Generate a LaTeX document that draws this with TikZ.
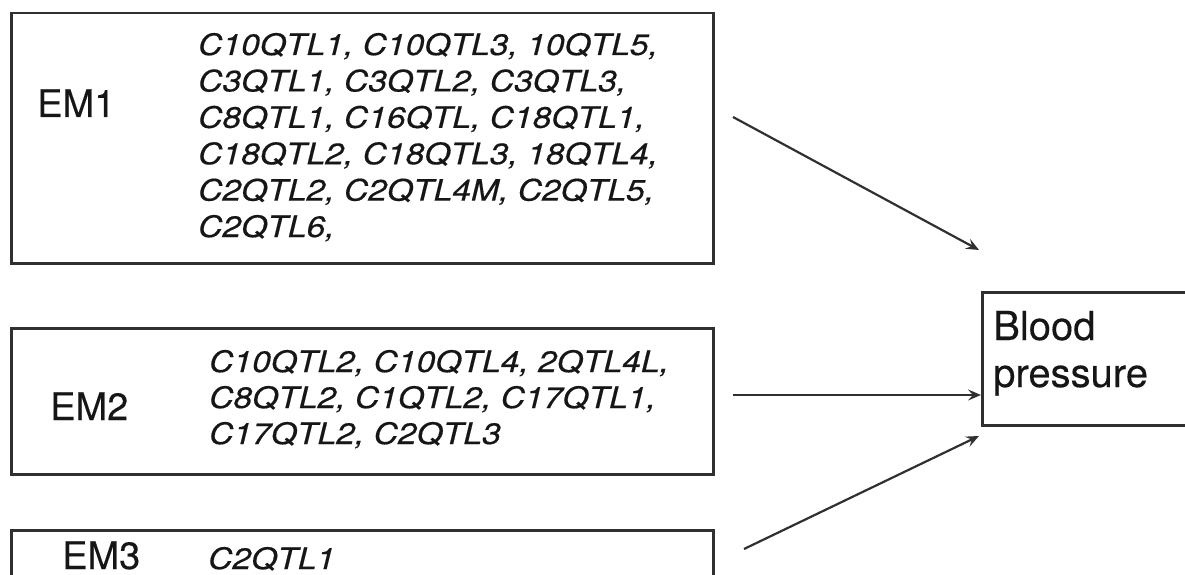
\documentclass[tikz,border=0pt]{standalone}
\usepackage{fontspec}
\setmainfont[FakeBold=0.3]{TeX Gyre Heros}
\newfontfamily\listfont[FakeStretch=1.14,FakeBold=0.5]{TeX Gyre Heros}
\usetikzlibrary{arrows.meta}
\definecolor{ink}{HTML}{161616}
\definecolor{rule}{HTML}{303030}
\tikzset{
  box/.style={draw=rule, line width=2.5pt, fill=none, inner sep=0pt, anchor=north west},
  label/.style={inner sep=0pt, anchor=base west, text=ink, font=\fontsize{38}{44}\selectfont},
  listtxt/.style={inner sep=0pt, anchor=base west, text=ink, font=\listfont\itshape\fontsize{29.5}{36}\selectfont},
  bptxt/.style={inner sep=0pt, anchor=base west, text=ink, font=\fontsize{40}{47}\selectfont},
  link/.style={draw=rule, line width=2.2pt, -{Stealth[length=13pt,width=11pt,inset=5pt]}}
}
\begin{document}
\begin{tikzpicture}[x=1pt, y=-1pt]
  \useasboundingbox (0,0) rectangle (1185,575);
  \clip (0,0) rectangle (1185,575);

  % module boxes
  \node[box, minimum width=702pt, minimum height=250pt] (em1) at (10,12) {};
  \node[box, minimum width=702pt, minimum height=146pt] (em2) at (10,327) {};
  \node[box, minimum width=702pt, minimum height=80pt] (em3) at (10,529) {};
  \node[box, minimum width=214pt, minimum height=133pt] (bp) at (981,291) {};

  % module names
  \node[label] (em1name) at (37,117) {EM1};
  \node[label] (em2name) at (50,420) {EM2};
  \node[label] (em3name) at (62,569) {EM3};

  % QTL lists
  \foreach \t [count=\i] in {{C10QTL1, C10QTL3, 10QTL5,},
                             {C3QTL1, C3QTL2, C3QTL3,},
                             {C8QTL1, C16QTL, C18QTL1,},
                             {C18QTL2, C18QTL3, 18QTL4,},
                             {C2QTL2, C2QTL4M, C2QTL5,},
                             {C2QTL6,}}
    \node[listtxt] (em1l\i) at (198, 55+36.4*\i-36.4) {\t};
  \foreach \t [count=\i] in {{C10QTL2, C10QTL4, 2QTL4L,},
                             {C8QTL2, C1QTL2, C17QTL1,},
                             {C17QTL2, C2QTL3}}
    \node[listtxt] (em2l\i) at (209, 372+36*\i-36) {\t};
  \node[listtxt] (em3l1) at (208,569) {C2QTL1};

  % outcome
  \node[bptxt] (bp1) at (993,340) {Blood};
  \node[bptxt] (bp2) at (993,387) {pressure};

  % effects
  \coordinate (s1) at (733,117);
  \coordinate (e1) at (979,250);
  \coordinate (s2) at (733,395);
  \coordinate (e2) at (bp.west |- s2);
  \coordinate (s3) at (744,549);
  \coordinate (e3) at (979,436);
  \draw[link] (s1) -- (e1);
  \draw[link] (s2) -- (e2);
  \draw[link] (s3) -- (e3);
\end{tikzpicture}
\end{document}
